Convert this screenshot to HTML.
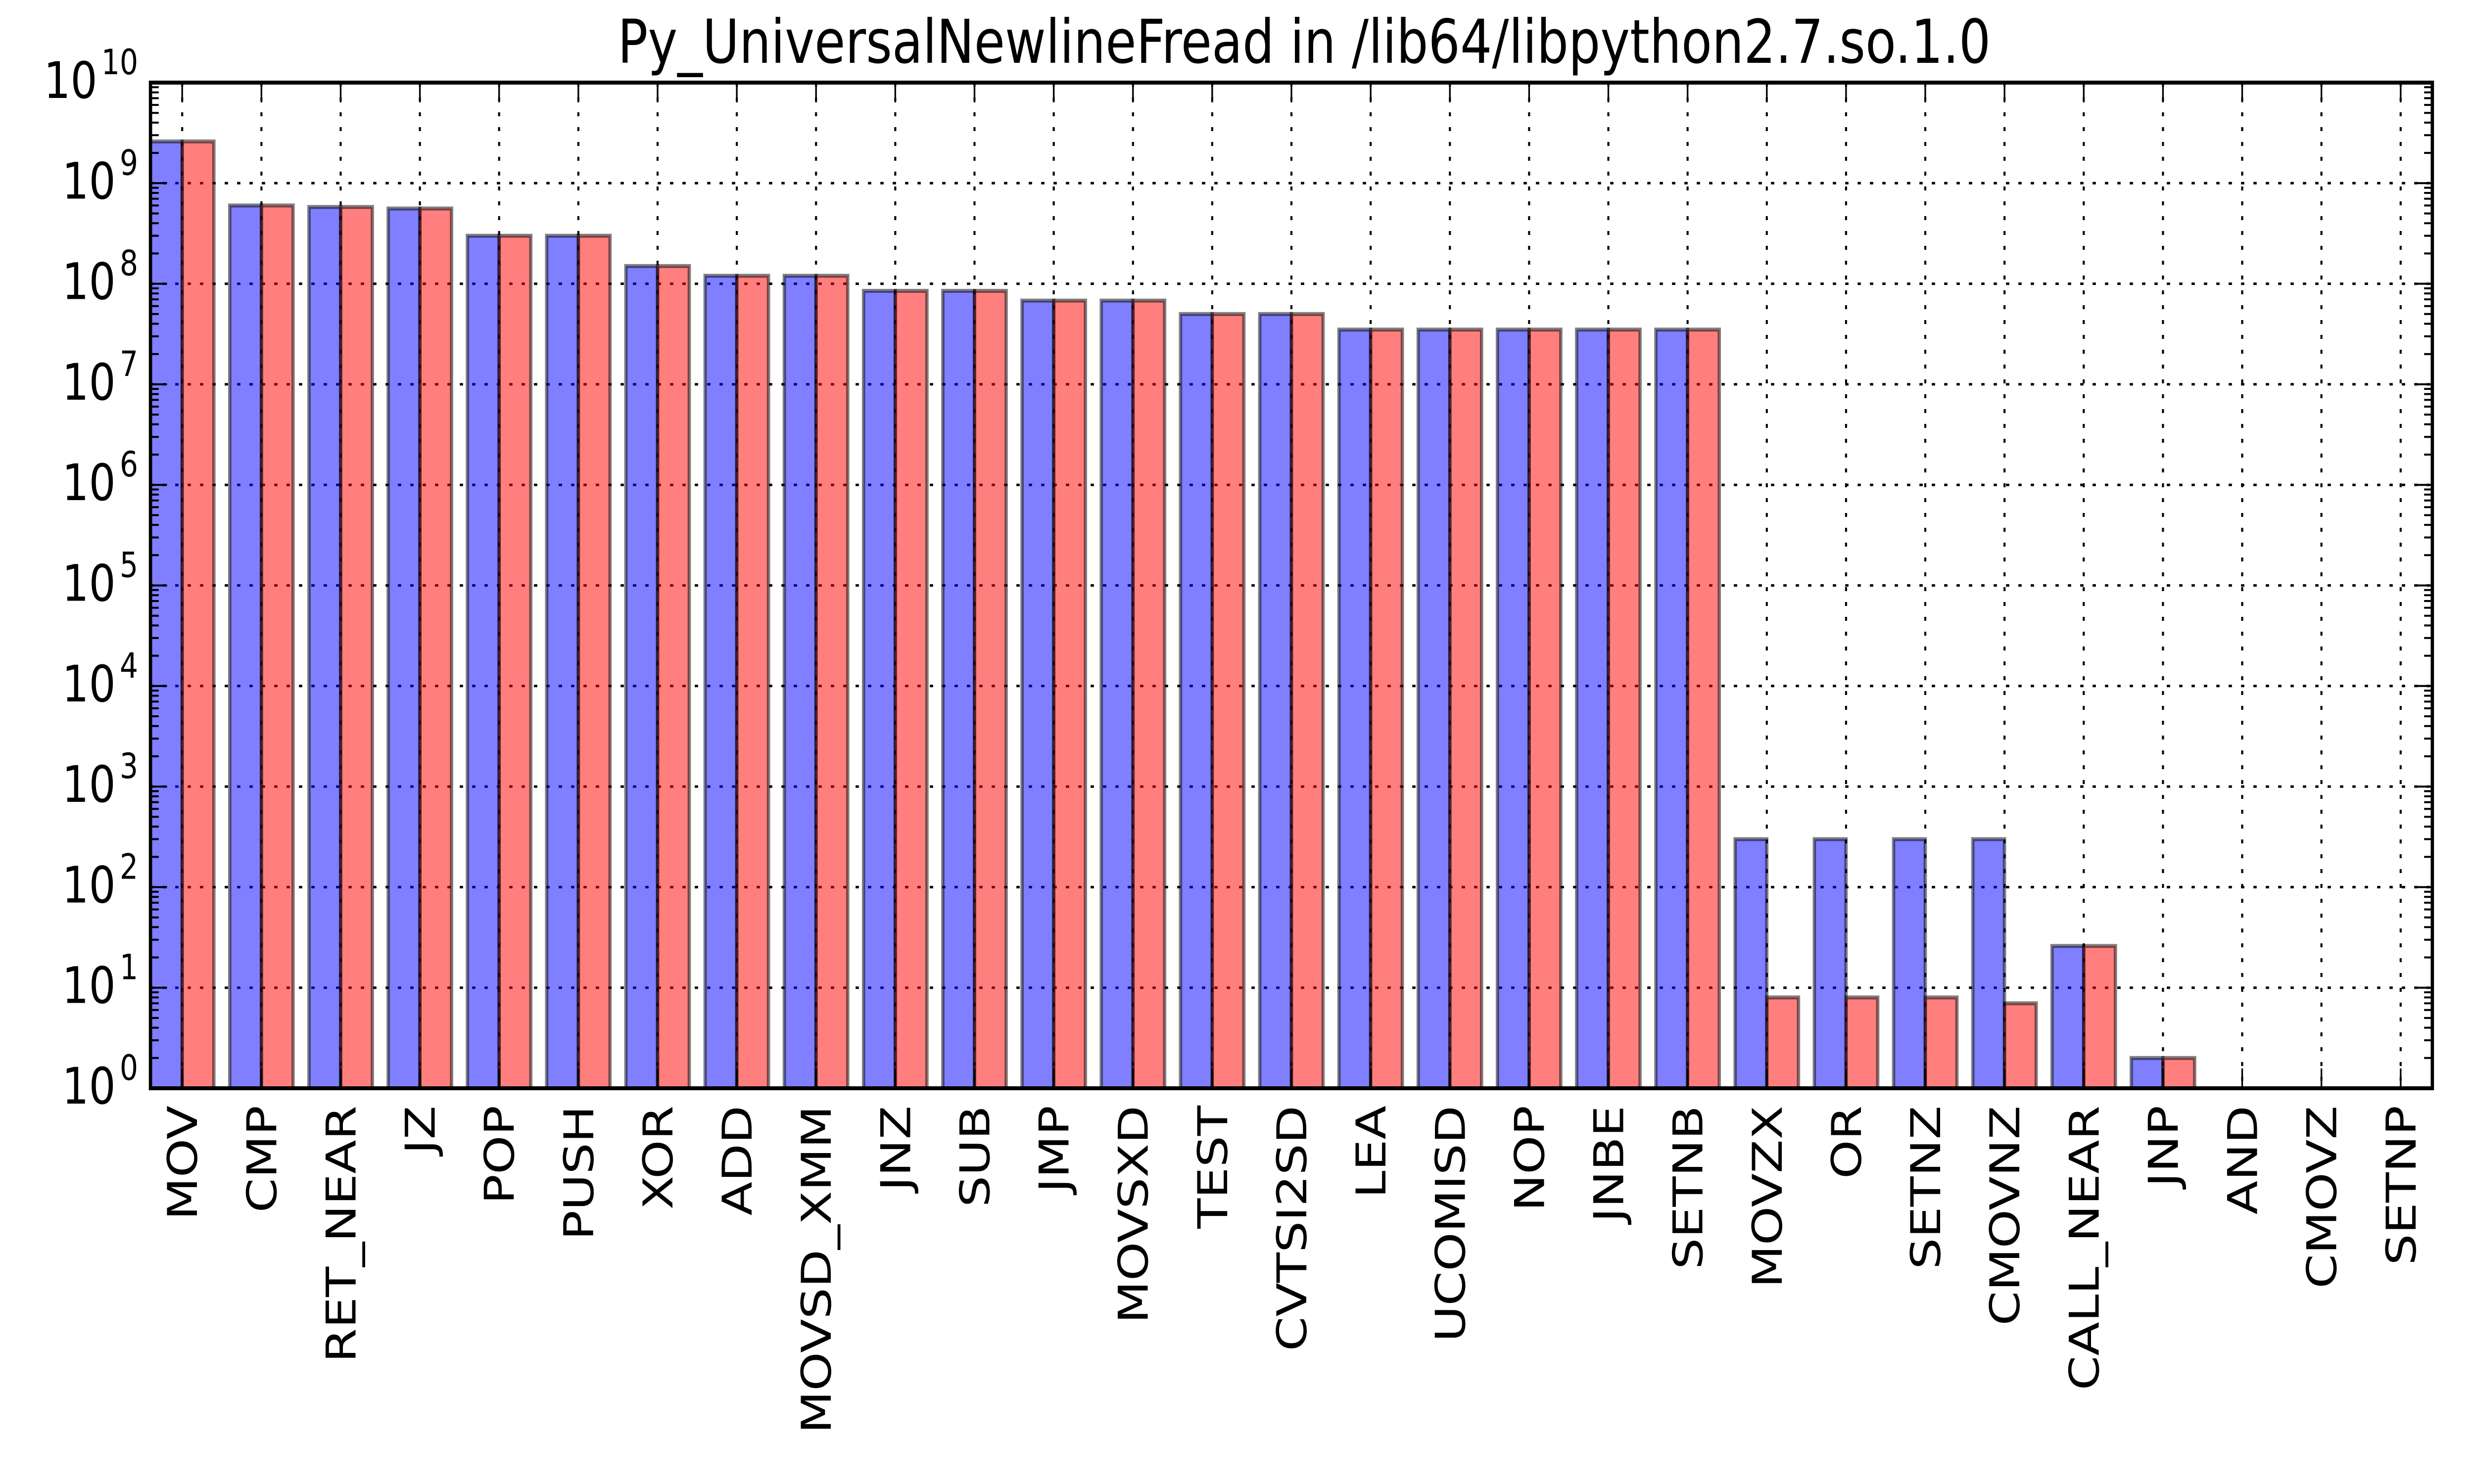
<!DOCTYPE html>
<html><head><meta charset="utf-8"><style>
html,body{margin:0;padding:0;background:#fff;width:100%;height:100%;overflow:hidden;}
svg{display:block;width:100vw;height:100vh;font-family:"DejaVu Sans","Liberation Sans",sans-serif;}
</style></head><body>
<svg id="chart" viewBox="0 0 6000 3000" preserveAspectRatio="none" xmlns="http://www.w3.org/2000/svg">
<rect x="0" y="0" width="6000" height="3000" fill="#fff"/>
<text x="3163" y="127" font-size="122" text-anchor="middle" textLength="3330" lengthAdjust="spacingAndGlyphs">Py_UniversalNewlineFread in /lib64/libpython2.7.so.1.0</text>
<g id="grid"></g><g id="bars"></g><g id="ticks"></g><g id="labels"></g>
<rect x="365" y="167" width="5534" height="2033" fill="none" stroke="#000" stroke-width="8"/>
</svg>
<script>
const categories = ["MOV","CMP","RET_NEAR","JZ","POP","PUSH","XOR","ADD","MOVSD_XMM","JNZ","SUB","JMP","MOVSXD","TEST","CVTSI2SD","LEA","UCOMISD","NOP","JNBE","SETNB","MOVZX","OR","SETNZ","CMOVNZ","CALL_NEAR","JNP","AND","CMOVZ","SETNP"];
const seriesBlue = [2.6e9,6.0e8,5.8e8,5.6e8,3.0e8,3.0e8,1.5e8,1.2e8,1.2e8,8.5e7,8.5e7,6.8e7,6.8e7,5.0e7,5.0e7,3.5e7,3.5e7,3.5e7,3.5e7,3.5e7,300,300,300,300,26,2,1,1,1];
const seriesRed = [2.6e9,6.0e8,5.8e8,5.6e8,3.0e8,3.0e8,1.5e8,1.2e8,1.2e8,8.5e7,8.5e7,6.8e7,6.8e7,5.0e7,5.0e7,3.5e7,3.5e7,3.5e7,3.5e7,3.5e7,8,8,8,7,26,2,1,1,1];
const yTickExps = [0,1,2,3,4,5,6,7,8,9,10];

const NS="http://www.w3.org/2000/svg";
const L=365,R=5899,T=167,B=2200;
const xmin=-0.4,xmax=categories.length-1+0.4;
const ymin=0,ymax=10;
function xs(v){return L+(v-xmin)/(xmax-xmin)*(R-L);}
function ys(v){const lv=Math.log10(Math.max(v,1));return B-(lv-ymin)/(ymax-ymin)*(B-T);}
function mk(tag,attrs,parent){const e=document.createElementNS(NS,tag);for(const k in attrs)e.setAttribute(k,attrs[k]);parent.appendChild(e);return e;}
const grid=document.getElementById('grid'),bars=document.getElementById('bars'),ticks=document.getElementById('ticks'),labels=document.getElementById('labels');

yTickExps.forEach(e=>{const y=ys(Math.pow(10,e));
  if(e>ymin&&e<ymax){const g=mk('line',{x1:L,x2:R,y1:y,y2:y,stroke:'#000','stroke-width':5,'stroke-dasharray':'8 22'},grid);
  
  }
});
categories.forEach((c,i)=>{const x=xs(i);
  const g=mk('line',{x1:x,x2:x,y1:T,y2:B,stroke:'#000','stroke-width':5,'stroke-dasharray':'8 22'},grid);
  
  
});

const bw=0.4;
categories.forEach((c,i)=>{
  const yb=ys(seriesBlue[i]);
  if(B-yb>0.5){const r=mk('rect',{x:xs(i-bw),y:yb,width:xs(i)-xs(i-bw),height:B-yb,fill:'rgba(0,0,255,0.5)',stroke:'rgba(0,0,0,0.5)','stroke-width':8},bars);
  
  }
  const yr=ys(seriesRed[i]);
  if(B-yr>0.5){const r=mk('rect',{x:xs(i),y:yr,width:xs(i+bw)-xs(i),height:B-yr,fill:'rgba(255,0,0,0.5)',stroke:'rgba(0,0,0,0.5)','stroke-width':8},bars);
  
  }
});

yTickExps.forEach(e=>{const y=ys(Math.pow(10,e));
  mk('line',{x1:L,x2:L+40,y1:y,y2:y,stroke:'#000','stroke-width':4},ticks);
  mk('line',{x1:R-40,x2:R,y1:y,y2:y,stroke:'#000','stroke-width':4},ticks);
  if(e<ymax){for(let m=2;m<=9;m++){const ym=ys(m*Math.pow(10,e));
    mk('line',{x1:L,x2:L+20,y1:ym,y2:ym,stroke:'#000','stroke-width':4},ticks);
    mk('line',{x1:R-20,x2:R,y1:ym,y2:ym,stroke:'#000','stroke-width':4},ticks);}}
  const t=mk('text',{x:335,y:y+31,'font-size':102,'text-anchor':'end'},labels);
  
  
  const a=mk('tspan',{},t);a.textContent='10';
  const b=mk('tspan',{'font-size':70,dy:-48,dx:10},t);b.textContent=String(e);
});
categories.forEach((c,i)=>{const x=xs(i);
  mk('line',{x1:x,x2:x,y1:B,y2:B-40,stroke:'#000','stroke-width':4},ticks);
  mk('line',{x1:x,x2:x,y1:T,y2:T+40,stroke:'#000','stroke-width':4},ticks);
  const t=mk('text',{x:0,y:0,'font-size':100,'text-anchor':'end',transform:'translate('+(x+36)+',2235) rotate(-90)'},labels);
  
  
  t.textContent=c;
});
</script>
</body></html>
